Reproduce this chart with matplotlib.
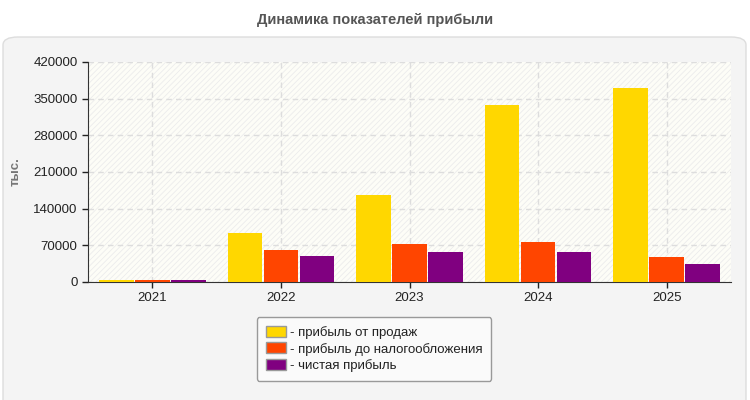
import numpy as np
import matplotlib.pyplot as plt
from matplotlib.patches import FancyBboxPatch, Rectangle

plt.rcParams['font.family'] = ['Liberation Sans', 'DejaVu Sans']
plt.rcParams['hatch.linewidth'] = 0.6

# Данные
years = ['2021', '2022', '2023', '2024', '2025']
sales_profit = [3000, 93000, 167000, 338000, 371000]
pretax_profit = [3000, 62000, 72000, 76000, 48500]
net_profit = [3000, 50500, 58000, 58000, 35000]
labels = ['- прибыль от продаж', '- прибыль до налогообложения', '- чистая прибыль']
colors = ['#ffd700', '#ff4500', '#800080']
yticks = [0, 70000, 140000, 210000, 280000, 350000, 420000]

fig = plt.figure(figsize=(7.5, 4), dpi=100)
fig.patch.set_facecolor('white')

# панель
panel = FancyBboxPatch((3 / 750, -0.05), 743 / 750, (400 - 37) / 400 + 0.05,
                       boxstyle='round,pad=0,rounding_size=0.02',
                       transform=fig.transFigure, facecolor='#f4f4f4',
                       edgecolor='#dddddd', linewidth=1, zorder=-10)
fig.patches.append(panel)

fig.text(0.5, 1 - 20 / 400, 'Динамика показателей прибыли', ha='center', va='center',
         fontsize=10.5, fontweight='bold', color='#555555')

ax = fig.add_axes([88 / 750, 1 - 282 / 400, (731 - 88) / 750, 220 / 400])
ax.set_facecolor('#fdfdf7')
ax.add_patch(Rectangle((0, 0), 1, 1, transform=ax.transAxes, facecolor='none',
                       edgecolor='#ececec', hatch='//////', linewidth=0, zorder=0))

x = np.arange(len(years))
step = 0.28
for i, (vals, c, lab) in enumerate(zip([sales_profit, pretax_profit, net_profit], colors, labels)):
    ax.bar(x + (i - 1) * step, vals, width=0.27, color=c, linewidth=0,
           label=lab, zorder=3)

ax.set_xlim(-0.5, len(years) - 0.5)
ax.set_ylim(0, 420000)
ax.set_yticks(yticks)
ax.set_yticklabels([str(t) for t in yticks])
ax.set_xticks(x)
ax.set_xticklabels(years)
ax.tick_params(labelsize=9.5, colors='#222222', length=4, width=1)
ax.grid(True, linestyle=(0, (4, 3)), color='#dddddd', linewidth=1, zorder=1)
for s in ['top', 'right']:
    ax.spines[s].set_visible(False)
for s in ['left', 'bottom']:
    ax.spines[s].set_color('#333333')
ax.set_ylabel('тыс.', fontsize=9.5, fontweight='bold', color='#777777', labelpad=8)

leg = fig.legend(loc='center', bbox_to_anchor=(374 / 750, 1 - 349 / 400), fontsize=9.5,
                 frameon=True, fancybox=True, facecolor='#fafafa', edgecolor='#999999',
                 framealpha=1, handlelength=1.5, handleheight=0.9, handletextpad=0.3,
                 labelspacing=0.25, borderpad=0.7)
for t in leg.get_texts():
    t.set_color('#222222')
for h in leg.legend_handles:
    h.set_edgecolor('#999999')
    h.set_linewidth(1)

fig.savefig('out.png', dpi=100)
